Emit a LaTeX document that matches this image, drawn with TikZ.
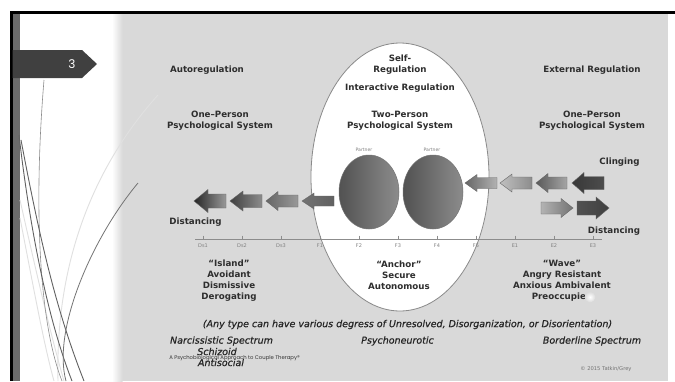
\documentclass[tikz,border=0pt]{standalone}
\usepackage{fontspec}
\setmainfont{DejaVu Sans}
\newfontfamily\gothic{Poppins}
\newfontfamily\semiital[FakeBold=0.7]{DejaVu Sans}
\definecolor{bgray}{HTML}{D9D9D9}
\definecolor{txt}{HTML}{2E2E2E}
\definecolor{tabcol}{HTML}{404040}
\definecolor{barcol}{HTML}{6B6B6B}
\definecolor{ellcol}{HTML}{8A8A8A}
\newcommand\blkarrow[8]{%
  % #1 tip x, #2 tail x, #3 y, #4 head length, #5 head half, #6 shaft half, #7 tip colour, #8 tail colour
  \path[draw=black!60, line width=0.4pt, left color=#7, right color=#8]
    (#1,#3) -- (#1+#4,#3-#5) -- (#1+#4,#3-#6) -- (#2,#3-#6) -- (#2,#3+#6)
    -- (#1+#4,#3+#6) -- (#1+#4,#3+#5) -- cycle;}
\newcommand\blkarrowr[8]{%
  \path[draw=black!60, line width=0.4pt, left color=#8, right color=#7]
    (#1,#3) -- (#1-#4,#3-#5) -- (#1-#4,#3-#6) -- (#2,#3-#6) -- (#2,#3+#6)
    -- (#1-#4,#3+#6) -- (#1-#4,#3+#5) -- cycle;}
\tikzset{
  hd/.style={font=\bfseries\fontsize{8.7}{11}\selectfont, text=txt, align=center, inner sep=0pt},
  itl/.style={font=\semiital\itshape\fontsize{9.5}{11}\selectfont, text=black!85, align=center, inner sep=0pt},
  tiny/.style={font=\fontsize{4.6}{5}\selectfont, text=black!50, inner sep=0pt},
  swoosh/.style={line width=0.9pt, draw=black!62},
  swooshl/.style={line width=0.9pt, draw=black!12},
}
\begin{document}
\begin{tikzpicture}[x=1pt,y=-1pt]
\useasboundingbox (0,0) rectangle (675,381);
\fill[white] (0,0) rectangle (675,381);
% diagram background
\fill[bgray] (122,13) rectangle (668,381);
\shade[left color=white, right color=bgray] (112,13) rectangle (122.5,381);
% slide frame
\fill[black] (10,10.5) rectangle (675,13.5);
\fill[black] (10,10.5) rectangle (12.5,381);
\fill[barcol] (12.5,13.5) rectangle (20,381);
% decorative curves
\draw[swooshl] (20,200) .. controls (38,280) and (52,340) .. (64,381);
\draw[swooshl] (20,218) .. controls (34,290) and (44,345) .. (54,381);
\draw[swooshl] (158,95) .. controls (95,165) and (55,260) .. (58,381);
\draw[line width=0.6pt, draw=black!45] (44,80) .. controls (34,200) and (38,320) .. (62,381);
\draw[swoosh] (19,135) .. controls (30,230) and (48,320) .. (72,381);
\draw[swoosh] (21,140) .. controls (40,240) and (56,310) .. (84,381);
\draw[line width=0.8pt, draw=black!55] (138,183) .. controls (92,238) and (52,330) .. (66,381);
% page tab
\fill[tabcol] (12.5,50) -- (82,50) -- (97,64) -- (82,78) -- (12.5,78) -- cycle;
\node[font=\gothic\fontsize{12}{12}\selectfont, text=white, inner sep=0pt] (pnum) at (72,64) {3};
% central ellipse
\draw[ellcol, fill=white, line width=0.8pt] (400,177) ellipse [x radius=89, y radius=134];
% partners
\path[draw=black!55, line width=0.5pt, left color=black!68, right color=black!45] (369,192) ellipse [x radius=30, y radius=37];
\path[draw=black!55, line width=0.5pt, left color=black!68, right color=black!45] (433,192) ellipse [x radius=30, y radius=37];
\node[tiny] (p1) at (364,150) {Partner};
\node[tiny] (p2) at (432,150) {Partner};
% distancing arrows (left)
\blkarrow{194}{226}{201}{14}{11.5}{7}{black!85}{black!40}
\blkarrow{230}{262}{201}{13}{10}{6.5}{black!75}{black!45}
\blkarrow{266}{298}{201}{12}{9.5}{6}{black!60}{black!40}
\blkarrow{302}{334}{201}{12}{8}{5}{black!55}{black!62}
% clinging arrows (right, pointing left)
\blkarrow{465}{497}{183}{12}{8.5}{5.5}{black!60}{black!30}
\blkarrow{500}{532}{183}{12}{9}{6}{black!25}{black!45}
\blkarrow{536}{567}{183}{12}{9.5}{6}{black!65}{black!35}
\blkarrow{572}{604}{183}{12}{10.5}{6.5}{black!78}{black!70}
% distancing arrows (right, pointing right)
\blkarrowr{573}{541}{208}{12}{9.5}{6}{black!55}{black!30}
\blkarrowr{609}{577}{208}{13}{11}{7}{black!75}{black!68}
% axis
\draw[black!45, line width=0.6pt] (195,239) -- (602,239);
\foreach \i/\l in {0/Ds1,1/Ds2,2/Ds3,3/F1,4/F2,5/F3,6/F4,7/F5,8/E1,9/E2,10/E3}{
  \draw[black!45, line width=0.5pt] (203+39*\i,235.5) -- (203+39*\i,239);
  \node[font=\fontsize{5}{6}\selectfont, text=black!50, inner sep=0pt] (ax\l) at (203+39*\i,246) {\l};
}
% headings
\node[hd] (auto) at (207,70) {Autoregulation};
\node[hd] (op1) at (220,120.5) {One--Person\\Psychological System};
\node[hd] (selfreg) at (400,64.5) {Self-\\Regulation};
\node[hd] (inter) at (400,88) {Interactive Regulation};
\node[hd] (tp) at (400,120.5) {Two-Person\\Psychological System};
\node[hd] (ext) at (592,70) {External Regulation};
\node[hd] (op2) at (592,120.5) {One--Person\\Psychological System};
\node[hd] (cling) at (619.5,162) {Clinging};
\node[hd] (distr) at (614,231) {Distancing};
\node[hd] (distl) at (195.5,222) {Distancing};
\node[hd] (island) at (229,280.5) {``Island''\\Avoidant\\Dismissive\\Derogating};
\node[hd] (anchor) at (399,275) {``Anchor''\\Secure\\Autonomous};
\node[hd] (wave) at (562,280.5) {``Wave''\\Angry Resistant\\Anxious Ambivalent\\Preoccupied};
\shade[inner color=white, outer color=bgray] (590,297) circle [radius=5.5];
% italic lines
\node[itl] (any) at (407.5,324.5) {(Any type can have various degress of Unresolved, Disorganization, or Disorientation)};
\node[itl] (narc) at (221.5,341) {Narcissistic Spectrum};
\node[itl] (schiz) at (217,351.5) {Schizoid};
\node[itl] (anti) at (221,362.5) {Antisocial};
\node[itl] (psy) at (397.5,341) {Psychoneurotic};
\node[itl] (bord) at (592,341) {Borderline Spectrum};
\node[font=\fontsize{5.2}{6}\selectfont, text=black!55, inner sep=0pt] (copy) at (606,369) {\textcopyright{} 2015 Tatkin/Grey};
% footer
\node[font=\gothic\fontsize{5.3}{6}\selectfont, text=black!80, inner sep=0pt] (foot) at (234.5,358.5) {A Psychobiological Approach to Couple Therapy\textregistered};
\end{tikzpicture}
\end{document}
